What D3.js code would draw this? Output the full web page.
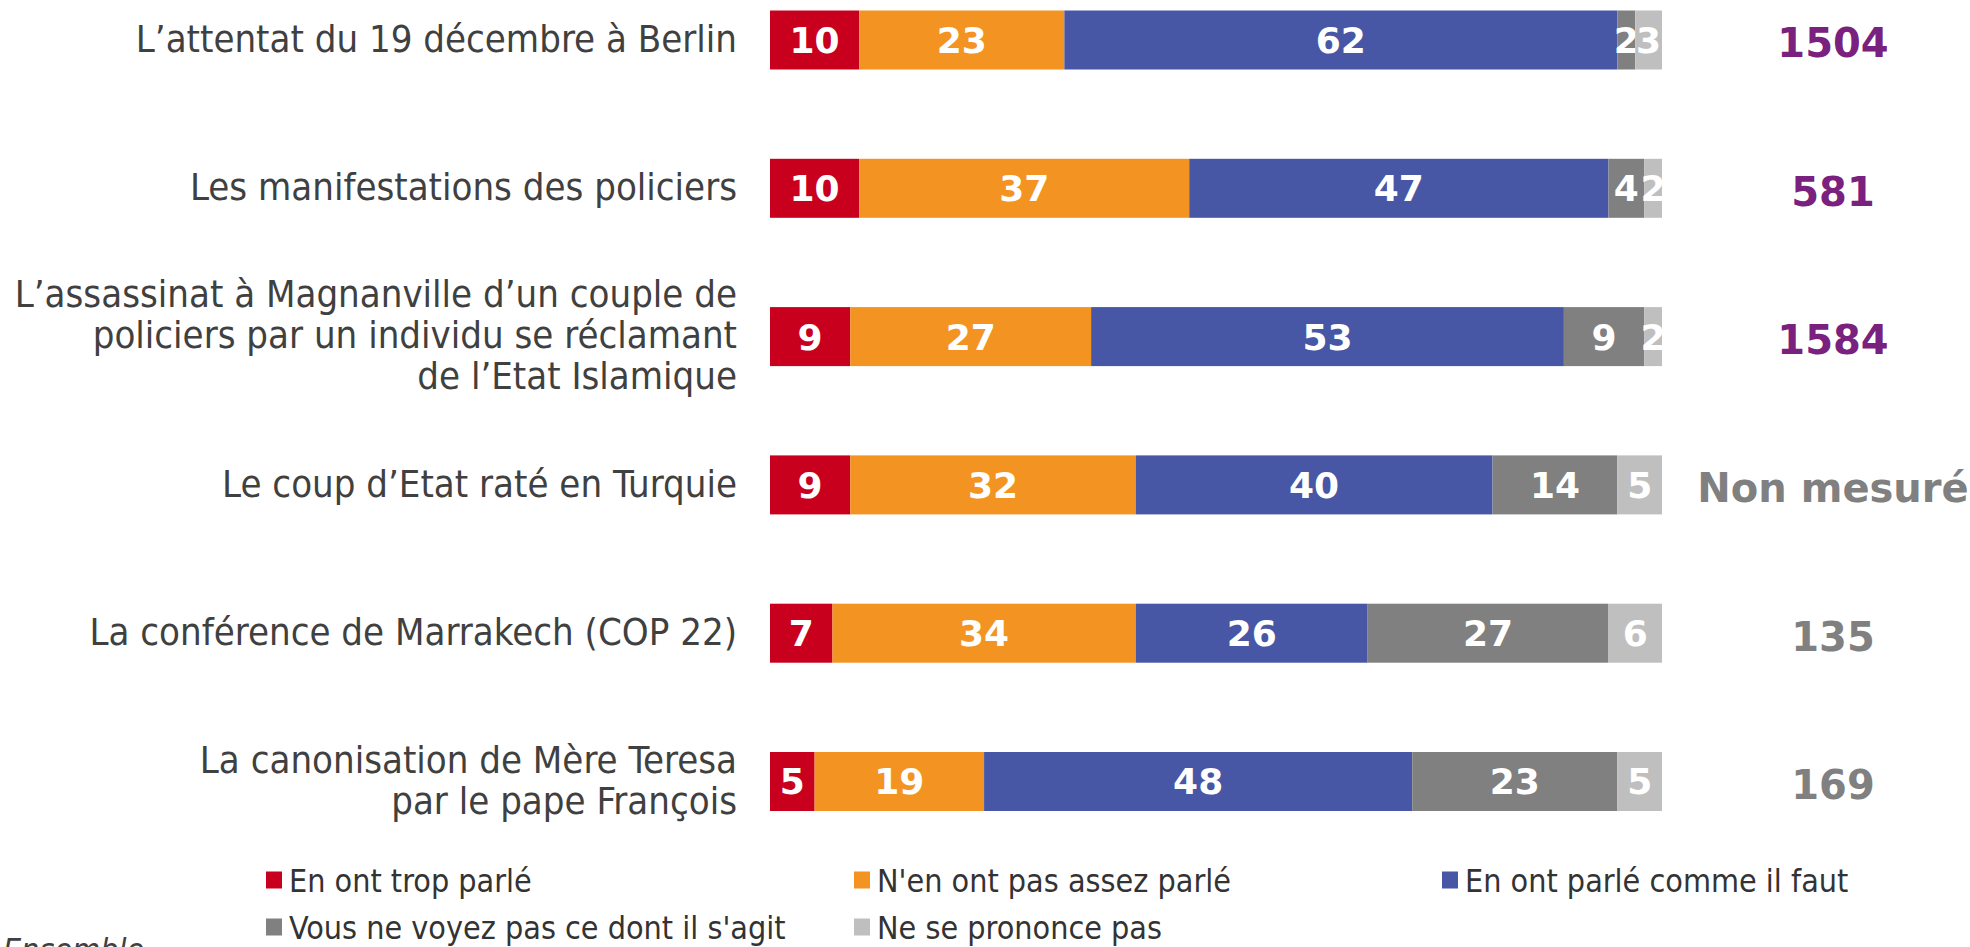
<!DOCTYPE html>
<html>
<head>
<meta charset="utf-8">
<script src="https://cdn.jsdelivr.net/npm/d3@7"></script>
<style>
  html, body { margin: 0; padding: 0; background: #fff; overflow: hidden; }
  svg { display: block; }
</style>
</head>
<body>
<svg id="chart" width="1970" height="947"></svg>
<script>
// ---- data ----
const categories = [
  ["L\u2019attentat du 19 décembre à Berlin"],
  ["Les manifestations des policiers"],
  ["L\u2019assassinat à Magnanville d\u2019un couple de", "policiers par un individu se réclamant", "de l\u2019Etat Islamique"],
  ["Le coup d\u2019Etat raté en Turquie"],
  ["La conférence de Marrakech (COP 22)"],
  ["La canonisation de Mère Teresa", "par le pape François"]
];
const seriesNames = [
  "En ont trop parlé",
  "N'en ont pas assez parlé",
  "En ont parlé comme il faut",
  "Vous ne voyez pas ce dont il s'agit",
  "Ne se prononce pas"
];
const tropParle      = [10, 10, 9, 9, 7, 5];
const pasAssezParle  = [23, 37, 27, 32, 34, 19];
const commeIlFaut    = [62, 47, 53, 40, 26, 48];
const voyezPas       = [2, 4, 9, 14, 27, 23];
const nsp            = [3, 2, 2, 5, 6, 5];
const baseLabels     = ["1504", "581", "1584", "Non mesuré", "135", "169"];
const baseHighlight  = [true, true, true, false, false, false];
const footnote       = "Ensemble";

// ---- styles ----
const colors = ["#C8001E", "#F39322", "#4756A5", "#808080", "#BFBFBF"];
const seriesValues = [tropParle, pasAssezParle, commeIlFaut, voyezPas, nsp];

const svg = d3.select("#chart");
const rowIds = categories.map((d, i) => i);

const x = d3.scaleLinear().domain([0, 100]).range([770, 1662]);
const y = d3.scalePoint().domain(rowIds).range([40, 781.5]);
const barH = 59;

// stacked data
const table = rowIds.map(i => {
  const o = { row: i };
  seriesNames.forEach((s, k) => o[s] = seriesValues[k][i]);
  return o;
});
const stack = d3.stack().keys(seriesNames)(table);

const layers = svg.append("g").selectAll("g")
  .data(stack).join("g")
  .attr("fill", (d, k) => colors[k]);

layers.selectAll("rect")
  .data(d => d).join("rect")
  .attr("x", d => x(d[0]))
  .attr("width", d => x(d[1]) - x(d[0]))
  .attr("y", d => y(d.data.row) - barH / 2)
  .attr("height", barH);

layers.selectAll("text")
  .data(d => d).join("text")
  .attr("x", d => (x(d[0]) + x(d[1])) / 2)
  .attr("y", d => y(d.data.row))
  .attr("dy", "0.36em")
  .attr("text-anchor", "middle")
  .attr("fill", "#fff")
  .attr("font-family", "'DejaVu Sans', Verdana, sans-serif")
  .attr("font-weight", "bold")
  .attr("font-size", 36)
  .text(d => d[1] - d[0]);

// category labels
const lineH = 41;
const cat = svg.append("g")
  .attr("font-family", "'DejaVu Sans Condensed', 'DejaVu Sans', sans-serif")
  .attr("font-size", 38)
  .attr("fill", "#404040")
  .attr("text-anchor", "end");
cat.selectAll("text")
  .data(rowIds).join("text")
  .attr("x", 737)
  .attr("y", i => y(i) - 2 - (categories[i].length - 1) * lineH / 2)
  .each(function(i) {
    d3.select(this).selectAll("tspan")
      .data(categories[i]).join("tspan")
      .attr("x", 737)
      .attr("dy", (l, j) => j === 0 ? "0.36em" : lineH)
      .text(l => l);
  });

// base labels on the right
svg.append("g").selectAll("text")
  .data(rowIds).join("text")
  .attr("x", 1833)
  .attr("y", i => y(i) + 3)
  .attr("dy", "0.36em")
  .attr("text-anchor", "middle")
  .attr("font-family", "'DejaVu Sans', Verdana, sans-serif")
  .attr("font-weight", "bold")
  .attr("font-size", 40)
  .attr("fill", i => baseHighlight[i] ? "#7A2180" : "#808080")
  .text(i => baseLabels[i]);

// legend
const legendPos = [[266, 880], [854, 880], [1442, 880], [266, 927], [854, 927]];
const leg = svg.append("g").selectAll("g")
  .data(seriesNames).join("g")
  .attr("transform", (d, k) => `translate(${legendPos[k][0]},${legendPos[k][1]})`);
leg.append("rect")
  .attr("x", 0).attr("y", -8.5).attr("width", 16).attr("height", 17)
  .attr("fill", (d, k) => colors[k]);
leg.append("text")
  .attr("x", 23).attr("y", 0).attr("dy", "0.36em")
  .attr("font-family", "'DejaVu Sans Condensed', 'DejaVu Sans', sans-serif")
  .attr("font-size", 32)
  .attr("fill", "#333")
  .text(d => d);

// footnote (cut at the bottom edge, as in the original)
svg.append("text")
  .attr("x", 3).attr("y", 961)
  .attr("font-family", "'DejaVu Sans Condensed', 'DejaVu Sans', sans-serif")
  .attr("font-style", "italic")
  .attr("font-size", 32)
  .attr("fill", "#404040")
  .text(footnote);
</script>
</body>
</html>
